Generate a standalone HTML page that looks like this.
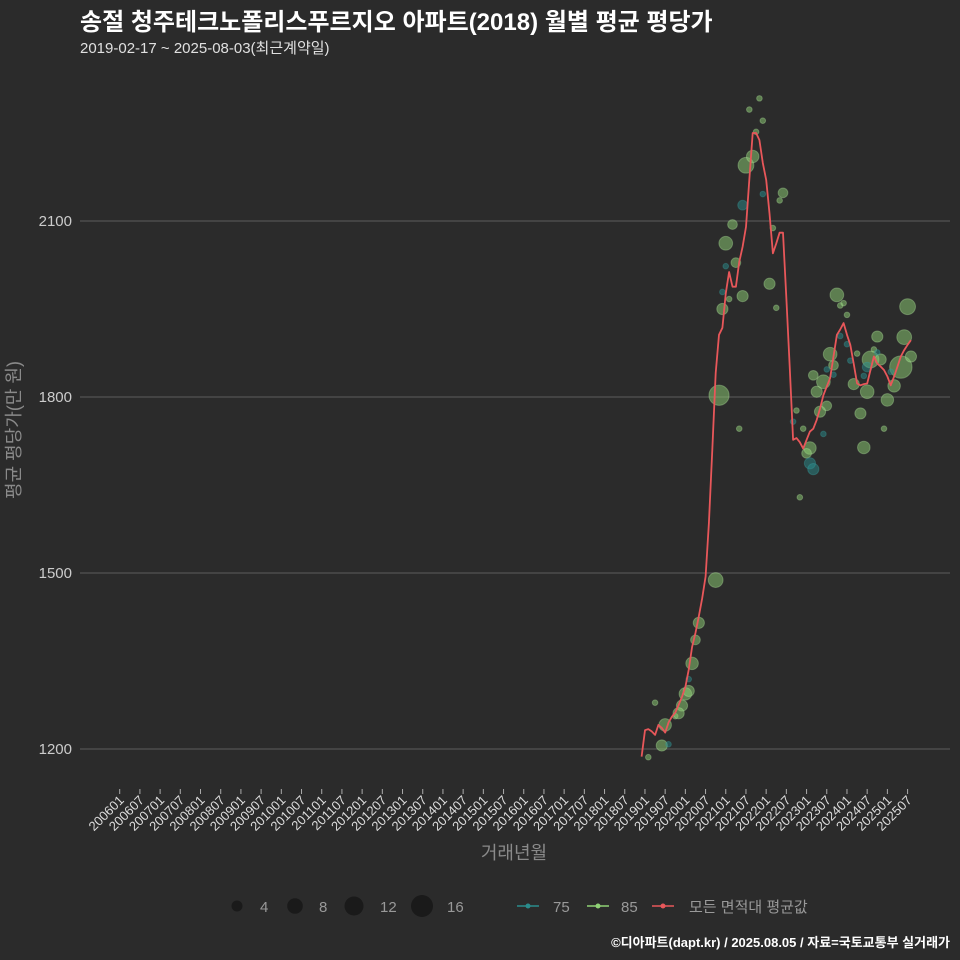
<!DOCTYPE html>
<html><head><meta charset="utf-8">
<style>
body{margin:0;background:#2b2b2b;}
svg{display:block;font-family:"Liberation Sans","Noto Sans CJK KR",sans-serif;}
</style></head>
<body>
<svg id="chart" width="960" height="960" viewBox="0 0 960 960">
<rect width="960" height="960" fill="#2b2b2b"/>
<text x="80" y="30" fill="#ffffff" font-size="24" font-weight="bold">송절 청주테크노폴리스푸르지오 아파트(2018) 월별 평균 평당가</text>
<text x="80" y="53" fill="#e0e0e0" font-size="15">2019-02-17 ~ 2025-08-03(최근계약일)</text>
<g id="grid"></g>
<g id="yticks"></g>
<g id="xticks"></g>
<g id="points"></g>
<g id="line"></g>
<text x="0" y="0" transform="translate(20,430) rotate(-90)" text-anchor="middle" fill="#8a8a8a" font-size="18">평균 평당가(만 원)</text>
<text x="514" y="859" text-anchor="middle" fill="#8a8a8a" font-size="18">거래년월</text>
<g>
<circle cx="237" cy="906" r="5.5" fill="#1a1a1a"/>
<text x="260" y="912" fill="#999" font-size="15">4</text>
<circle cx="295" cy="906" r="7.8" fill="#1a1a1a"/>
<text x="319" y="912" fill="#999" font-size="15">8</text>
<circle cx="354" cy="906" r="9.5" fill="#1a1a1a"/>
<text x="380" y="912" fill="#999" font-size="15">12</text>
<circle cx="422" cy="906" r="11" fill="#1a1a1a"/>
<text x="447" y="912" fill="#999" font-size="15">16</text>
<line x1="517" y1="906" x2="539" y2="906" stroke="#2a8c8c" stroke-width="1.5"/>
<circle cx="528" cy="906" r="2.5" fill="#2a8c8c"/>
<text x="553" y="912" fill="#999" font-size="15">75</text>
<line x1="587" y1="906" x2="609" y2="906" stroke="#8fd175" stroke-width="1.5"/>
<circle cx="598" cy="906" r="2.5" fill="#8fd175"/>
<text x="621" y="912" fill="#999" font-size="15">85</text>
<line x1="652" y1="906" x2="674" y2="906" stroke="#e8575a" stroke-width="1.5"/>
<circle cx="663" cy="906" r="2.5" fill="#e8575a"/>
<text x="689" y="912" fill="#999" font-size="15">모든 면적대 평균값</text>
</g>
<text x="950" y="947" text-anchor="end" fill="#ffffff" font-size="13" font-weight="bold">©디아파트(dapt.kr) / 2025.08.05 / 자료=국토교통부 실거래가</text>
</svg>
<script>
const yTicks=[1200,1500,1800,2100];
const lineMonths=["201812","201901","201902","201903","201904","201905","201906","201907","201908","201909","201910","201911","201912","202001","202002","202003","202004","202005","202006","202007","202008","202009","202010","202011","202012","202101","202102","202103","202104","202105","202106","202107","202108","202109","202110","202111","202112","202201","202202","202203","202204","202205","202206","202207","202208","202209","202210","202211","202212","202301","202302","202303","202304","202305","202306","202307","202308","202309","202310","202311","202312","202401","202402","202403","202404","202405","202406","202407","202408","202409","202410","202411","202412","202501","202502","202503","202504","202505","202506","202507","202508"];
const lineValues=[1187,1232,1234,1230,1224,1241,1236,1228,1245,1255,1262,1275,1289,1306,1335,1374,1398,1426,1457,1494,1585,1710,1841,1906,1918,1977,2013,1988,1988,2030,2056,2090,2170,2250,2250,2238,2199,2170,2113,2045,2062,2080,2080,1967,1852,1727,1730,1723,1712,1727,1741,1746,1761,1780,1803,1818,1832,1869,1906,1915,1926,1906,1889,1857,1823,1820,1822,1823,1846,1869,1857,1852,1846,1835,1820,1835,1852,1869,1880,1889,1897];
const ptMonths=["202111","202108","202112","202110","202107","202109","202106","202112","202206","202205","202103","202101","202104","202101","202203","202202","202106","202012","202102","202012","202204","202011","202105","202210","202209","202212","202302","202301","202302","202303","202310","202311","202312","202401","202311","202401","202308","202309","202307","202309","202303","202306","202304","202307","202305","202306","202402","202404","202403","202407","202405","202406","202408","202407","202406","202410","202409","202411","202410","202503","202501","202412","202505","202502","202506","202507","202508","201902","201906","201908","201904","201907","201910","201912","201911","202001","202002","202002","202003","202004","202005","202010","202211"];
const ptValues=[2309,2290,2271,2252,2195,2210,2127,2146,2148,2135,2094,2062,2029,2023,2088,1993,1972,1979,1967,1950,1952,1803,1746,1777,1758,1746,1713,1704,1687,1677,1974,1956,1960,1940,1904,1890,1873,1854,1847,1838,1837,1826,1809,1785,1775,1737,1862,1874,1822,1809,1772,1714,1864,1851,1836,1903,1881,1864,1876,1819,1795,1746,1851,1843,1902,1954,1869,1186,1206,1208,1279,1241,1256,1274,1261,1294,1299,1319,1346,1386,1415,1488,1629];
const ptCounts=[1,1,1,1,8,5,3,1,3,1,3,6,3,1,1,4,4,1,1,4,1,13,1,1,1,1,5,3,4,4,6,1,1,1,1,1,6,3,1,1,3,6,4,3,4,1,1,1,4,6,4,5,9,3,1,4,1,4,1,5,5,1,16,1,7,8,4,1,4,1,1,5,1,4,4,5,4,1,5,3,4,7,1];
const ptTypes=["85","85","85","85","85","85","75","75","85","85","85","85","85","75","85","85","85","75","85","85","85","85","85","85","75","85","85","85","75","75","85","85","85","85","75","75","85","85","75","75","85","85","85","85","85","75","75","85","85","85","85","85","85","75","75","85","85","85","75","85","85","85","85","75","85","85","85","85","85","75","85","85","85","85","85","85","85","75","85","85","85","85","85"];
const xTickLabels=[];
for(let y=2006;y<=2025;y++){xTickLabels.push(y+"01");xTickLabels.push(y+"07");}

const NS="http://www.w3.org/2000/svg";
function mk(t,a,p){const e=document.createElementNS(NS,t);for(const k in a)e.setAttribute(k,a[k]);p.appendChild(e);return e;}
function monthIdx(s){return (parseInt(s.slice(0,4))-2006)*12+parseInt(s.slice(4,6))-1;}
function xScale(s){return 119.7+monthIdx(s)*3.367;}
function yScale(v){return 221+(2100-v)*176/300;}

const grid=document.getElementById('grid'),yt=document.getElementById('yticks'),xt=document.getElementById('xticks');
yTicks.forEach(v=>{
  const l=mk('line',{x1:80,x2:950,y1:yScale(v),y2:yScale(v),stroke:'#5c5c5c','stroke-width':1},grid);
  
  
  const t=mk('text',{x:72,y:yScale(v)+5,'text-anchor':'end',fill:'#cccccc','font-size':15},yt);
  t.textContent=v;
  
  
});
xTickLabels.forEach(s=>{
  const x=xScale(s);
  const l=mk('line',{x1:x,x2:x,y1:789,y2:794,stroke:'#aaaaaa','stroke-width':1},xt);
  
  
  const t=mk('text',{x:0,y:0,transform:'translate('+(x+5)+',801) rotate(-45)','text-anchor':'end',fill:'#dddddd','font-size':13},xt);
  t.textContent=s;
  
  
});
const pg=document.getElementById('points');
ptValues.forEach((v,i)=>{
  const c=ptTypes[i]==="75";
  const p=mk('circle',{cx:xScale(ptMonths[i]),cy:yScale(v),r:2.8*Math.sqrt(ptCounts[i]),fill:c?'#2a8c8c':'#8fd175','fill-opacity':0.5,stroke:c?'#3aa0a0':'#b5e8a0','stroke-opacity':0.35},pg);
  
  
});
const lg=document.getElementById('line');
const d=lineValues.map((v,i)=>(i?'L':'M')+xScale(lineMonths[i]).toFixed(1)+','+yScale(v).toFixed(1)).join(' ');
const path=mk('path',{d:d,fill:'none',stroke:'#e8575a','stroke-width':1.8,'stroke-linejoin':'round'},lg);


</script>
</body></html>
